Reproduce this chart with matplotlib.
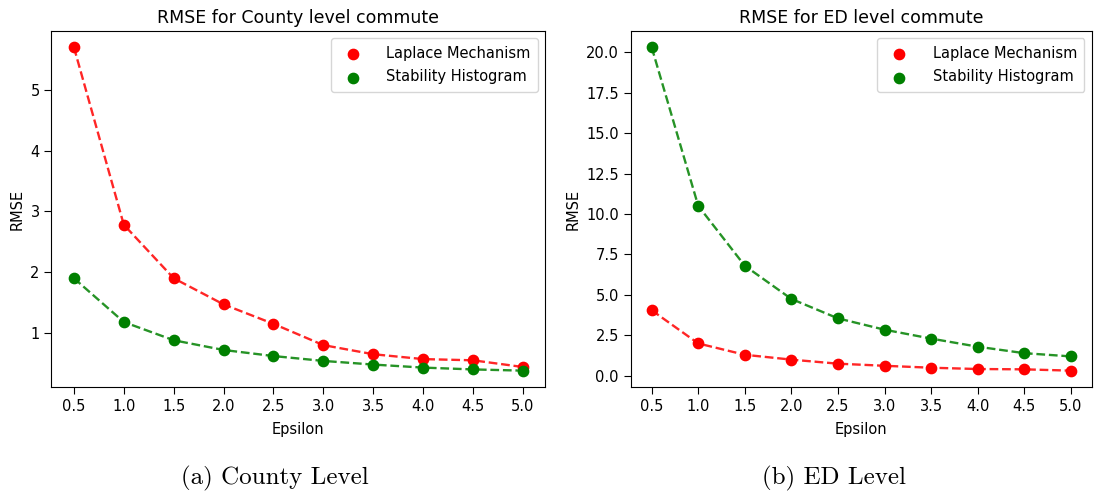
import numpy as np
import matplotlib.pyplot as plt

# valores
epsilon = [0.5, 1.0, 1.5, 2.0, 2.5, 3.0, 3.5, 4.0, 4.5, 5.0]

county_laplace = [5.70, 2.78, 1.90, 1.47, 1.15, 0.80, 0.65, 0.57, 0.55, 0.44]
county_stability = [1.90, 1.18, 0.88, 0.72, 0.62, 0.54, 0.48, 0.43, 0.40, 0.38]

ed_laplace = [4.05, 2.00, 1.30, 1.00, 0.75, 0.62, 0.50, 0.42, 0.40, 0.32]
ed_stability = [20.3, 10.5, 6.8, 4.75, 3.55, 2.85, 2.30, 1.80, 1.40, 1.20]

titles = ["RMSE for County level commute", "RMSE for ED level commute"]
captions = ["(a) County Level", "(b) ED Level"]

fig = plt.figure(figsize=(10.95, 4.94), dpi=100)
ax1 = fig.add_axes([0.047, 0.217, 0.451, 0.72])
ax2 = fig.add_axes([0.576, 0.217, 0.421, 0.72])

for ax, lap, stab, titulo in [
    (ax1, county_laplace, county_stability, titles[0]),
    (ax2, ed_laplace, ed_stability, titles[1]),
]:
    ax.plot(epsilon, lap, "--", color="red", alpha=0.85, lw=1.7)
    ax.plot(epsilon, stab, "--", color="green", alpha=0.85, lw=1.7)
    ax.scatter(epsilon, lap, color="red", s=55, label="Laplace Mechanism", zorder=3)
    ax.scatter(epsilon, stab, color="green", s=55, label="Stability Histogram", zorder=3)
    ax.set_xticks(epsilon)
    ax.set_title(titulo, fontsize=12.5, pad=6)
    ax.set_xlabel("Epsilon", fontsize=10.5, labelpad=6)
    ax.set_ylabel("RMSE", fontsize=10.5)
    ax.tick_params(labelsize=10.5, length=5)
    ax.legend(loc="upper right", fontsize=10.5, labelspacing=0.6,
              handletextpad=1.3, borderpad=0.5)

# legendas das subfiguras
fig.text(0.251, 0.032, captions[0], ha="center", va="center", fontsize=18, family="cmr10")
fig.text(0.762, 0.032, captions[1], ha="center", va="center", fontsize=18, family="cmr10")

ax1.set_yticks([1, 2, 3, 4, 5])
ax2.set_yticks([0.0, 2.5, 5.0, 7.5, 10.0, 12.5, 15.0, 17.5, 20.0])
ax2.set_yticklabels(["0.0", "2.5", "5.0", "7.5", "10.0", "12.5", "15.0", "17.5", "20.0"])

plt.savefig("out.png", dpi=100)
